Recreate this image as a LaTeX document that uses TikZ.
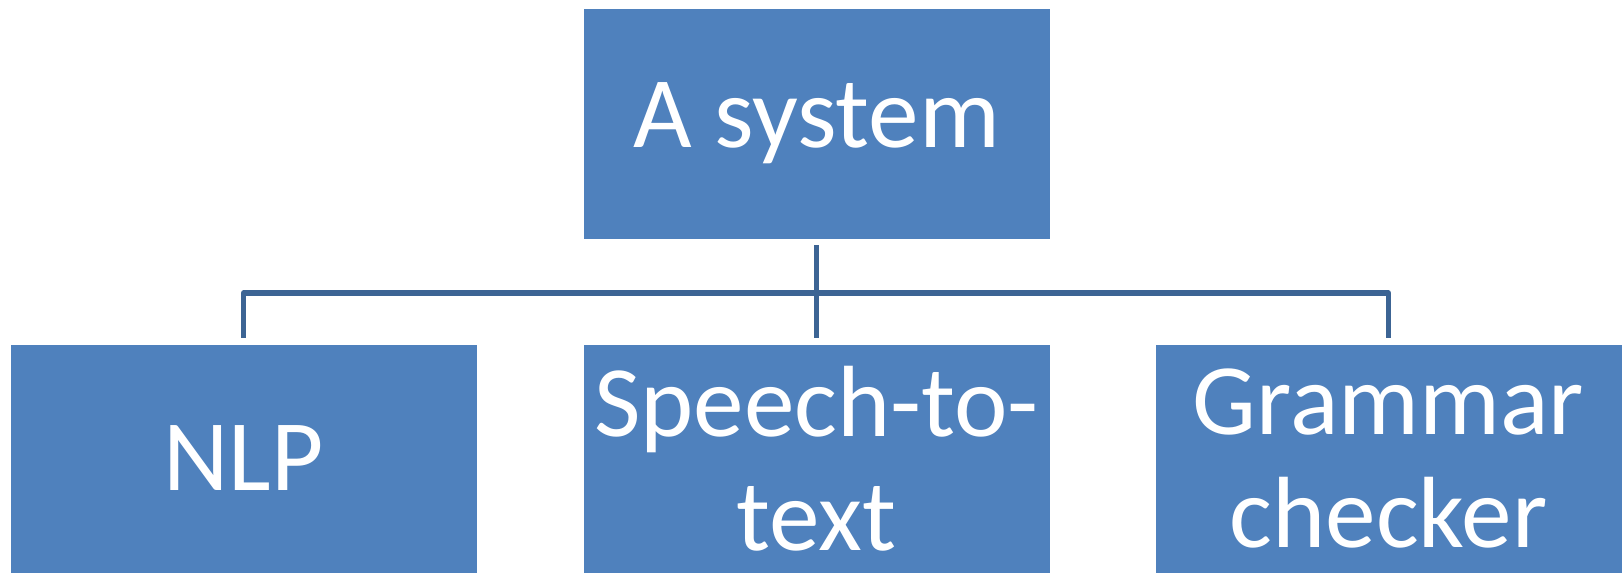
\documentclass[tikz,border=0pt]{standalone}
\usepackage{fontspec}
\setmainfont{Carlito}
\usetikzlibrary{positioning}
\definecolor{boxblue}{RGB}{79, 129, 189}
\definecolor{linkblue}{RGB}{60, 100, 148}

\begin{document}
\begin{tikzpicture}[
    x=0.025cm, y=0.025cm,
    block/.style={rectangle, fill=boxblue, draw=white, line width=0.4pt, text=white, inner sep=0pt, outer sep=0pt,
        minimum width=11.675cm, align=center, font=\fontsize{72}{81}\selectfont},
    topblock/.style={block, minimum height=5.775cm},
    subblock/.style={block, minimum height=5.725cm},
    link/.style={linkblue, line width=3.6pt, line join=round}
]
\useasboundingbox (0,0) rectangle (1624,-573);

% Top level
\node[topblock] (sys) at (816.5,-123.5) {A system};

% Components
\node[subblock] (nlp) at (243.5,-458.5) {NLP};
\node[subblock] (stt) at (816.5,-458.5) {Speech-to-\\text};
\node[subblock] (gram) at (1388.5,-458.5) {Grammar\\checker};

% Connectors
\coordinate (bus) at (816.5,-293);
\draw[link] ([yshift=-0.15cm]sys.south) -- ([yshift=0.15cm]stt.north);
\draw[link] ([yshift=0.15cm]nlp.north) |- (bus) -| ([yshift=0.15cm]gram.north);

\end{tikzpicture}
\end{document}
